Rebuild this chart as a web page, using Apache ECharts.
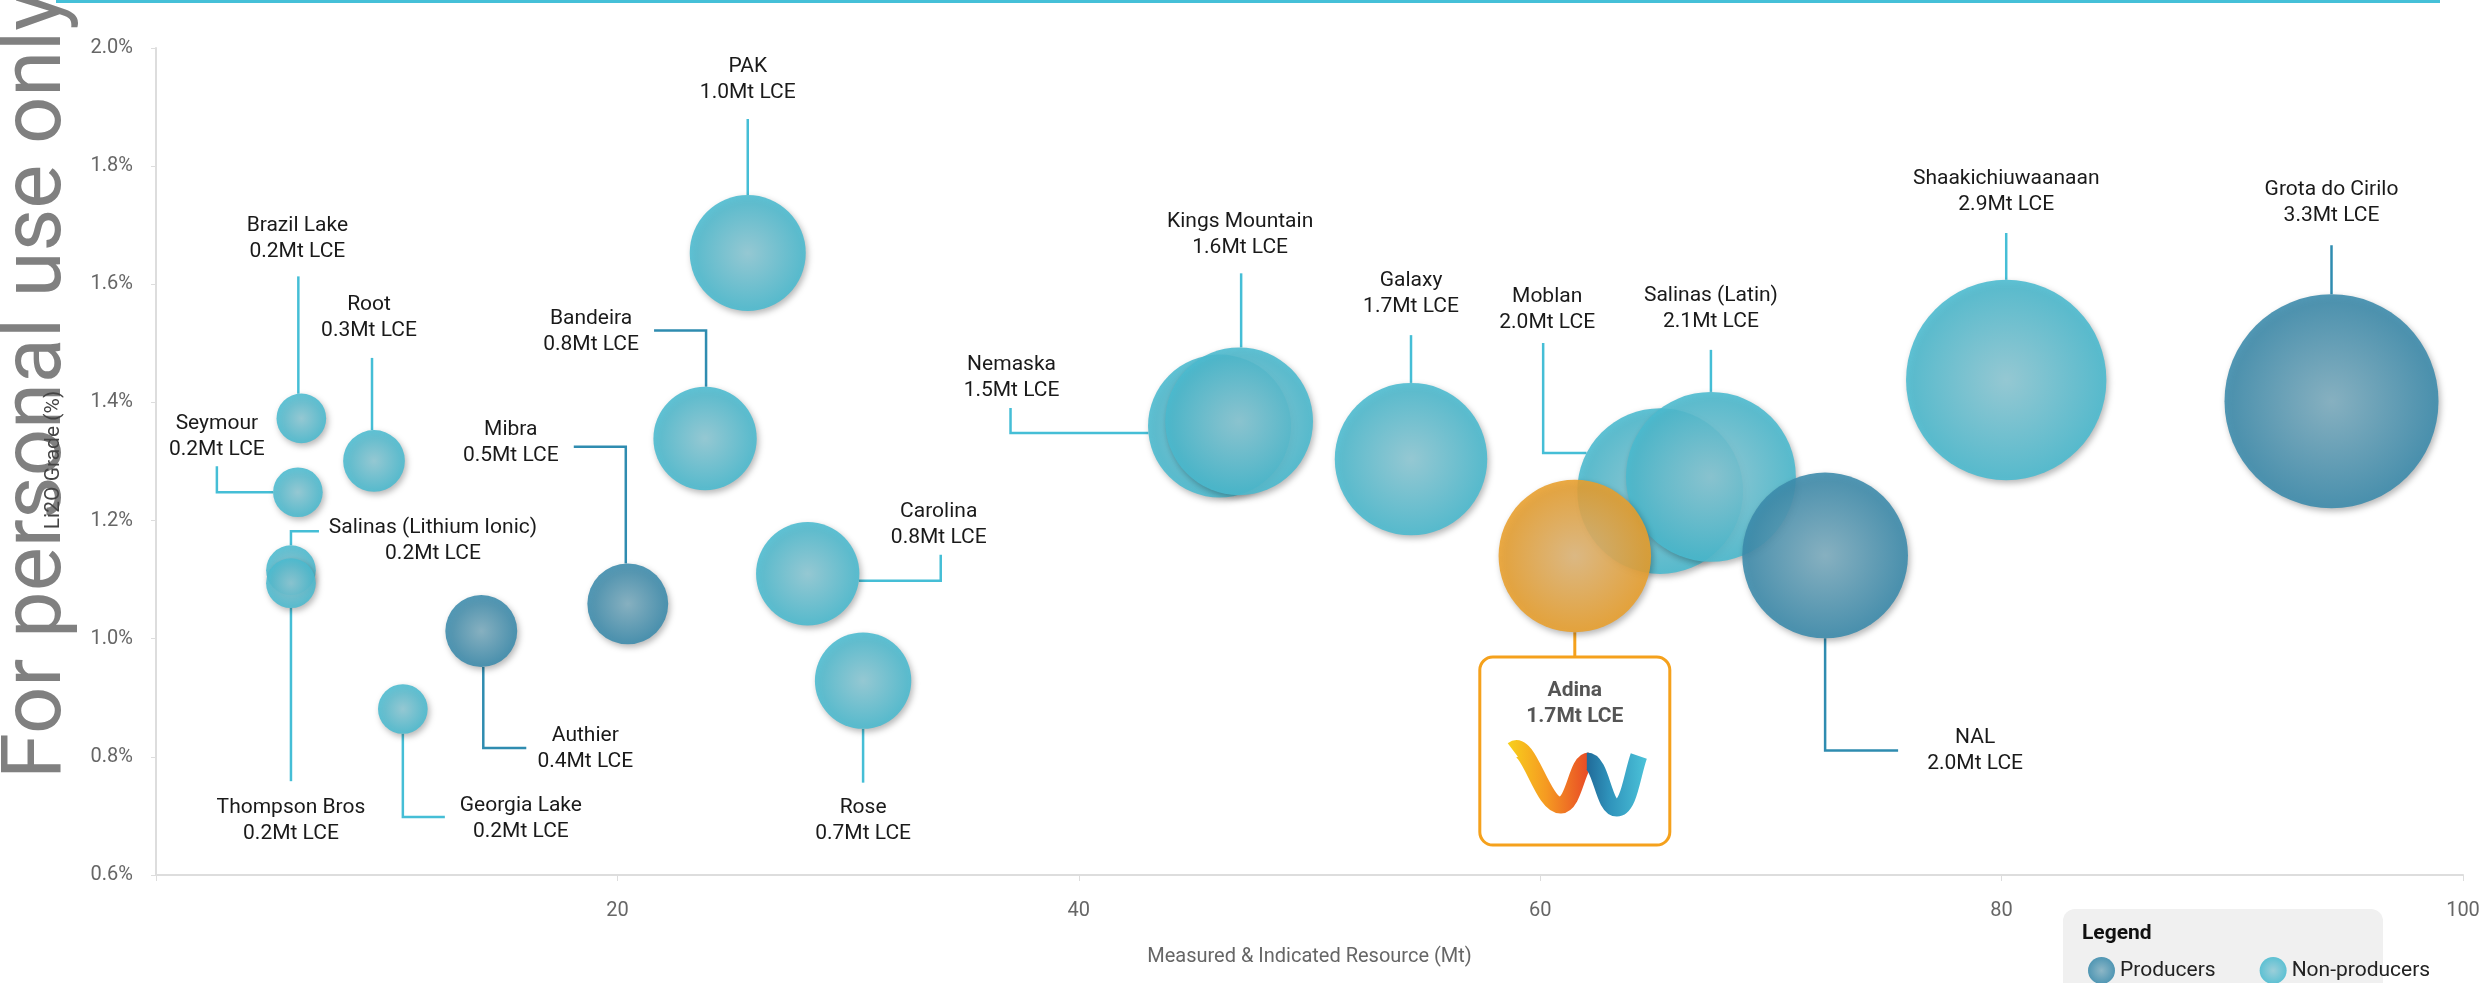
<!DOCTYPE html>
<html>
<head>
<meta charset="utf-8">
<script src="https://cdn.jsdelivr.net/npm/echarts/dist/echarts.min.js"></script>
<style>
html,body{margin:0;padding:0;background:#ffffff;}
#chart{width:2484px;height:983px;}
</style>
</head>
<body>
<div id="chart"></div>
<script>
// ---------------- DATA ----------------
const names = ['Brazil Lake','Root','Seymour','Salinas (Lithium Ionic)','Thompson Bros','Georgia Lake','Authier','Mibra','Bandeira','PAK','Carolina','Rose','Nemaska','Kings Mountain','Galaxy','Moblan','Salinas (Latin)','NAL','Shaakichiuwaanaan','Grota do Cirilo','Adina'];
const resourceMt = [6.3, 9.45, 6.15, 5.85, 5.85, 10.7, 14.1, 20.45, 23.8, 25.65, 28.25, 30.65, 46.1, 46.95, 54.4, 65.2, 67.4, 72.35, 80.2, 94.3, 61.5];
const gradePct  = [1.373, 1.301, 1.248, 1.116, 1.094, 0.881, 1.013, 1.059, 1.339, 1.653, 1.110, 0.929, 1.360, 1.368, 1.304, 1.250, 1.274, 1.141, 1.438, 1.402, 1.140];
const lceMt     = [0.2, 0.3, 0.2, 0.2, 0.2, 0.2, 0.4, 0.5, 0.8, 1.0, 0.8, 0.7, 1.5, 1.6, 1.7, 2.0, 2.1, 2.0, 2.9, 3.3, 1.7];
const status    = ['N','N','N','N','N','N','P','P','N','N','N','N','N','N','N','N','N','P','N','P','A'];
const seriesNames = ['Producers','Non-producers'];
const xTickValues = [20, 40, 60, 80, 100];
const yTickValues = [0.6, 0.8, 1.0, 1.2, 1.4, 1.6, 1.8, 2.0];
const xAxisTitle = 'Measured & Indicated Resource (Mt)';
const yAxisTitle = 'Li2O Grade (%)';

// ---------------- LAYOUT / STYLE (label placement in px offsets from bubble centre) ----------------
const DARK = '#2f8cb0', CYAN = '#45bed6', ORANGE = '#f5a11c';
const leaderLayout = {
  'Brazil Lake':            {from:'top',    off:-3, pts:[[-3,-142]], label:[-4,-180]},
  'Root':                   {from:'top',    off:-2, pts:[[-2,-103]], label:[-5,-143]},
  'Seymour':                {from:'left',   off:0,  pts:[[-81,0],[-81,-26]], label:[-81,-55]},
  'Salinas (Lithium Ionic)':{from:'top',    off:0,  pts:[[0,-39],[28,-39]], label:[142,-29]},
  'Thompson Bros':          {from:'bottom', off:0,  pts:[[0,198]], label:[0,238]},
  'Georgia Lake':           {from:'bottom', off:0,  pts:[[0,108],[42,108]], label:[118,110]},
  'Authier':                {from:'bottom', off:2,  pts:[[2,117],[45,117]], label:[104,118], dark:true},
  'Mibra':                  {from:'top',    off:-2, pts:[[-2,-157],[-54,-157]], label:[-117,-161], dark:true},
  'Bandeira':               {from:'top',    off:1,  pts:[[1,-108],[-51,-108]], label:[-114,-107], dark:true},
  'PAK':                    {from:'top',    off:0,  pts:[[0,-134]], label:[0,-173]},
  'Carolina':               {from:'right',  off:7,  pts:[[133,7],[133,-19]], label:[131,-49]},
  'Rose':                   {from:'bottom', off:0,  pts:[[0,102]], label:[0,140]},
  'Nemaska':                {from:'left',   off:7,  pts:[[-209,7],[-209,-18]], label:[-208,-48]},
  'Kings Mountain':         {from:'top',    off:2,  pts:[[2,-148]], label:[1,-187]},
  'Galaxy':                 {from:'top',    off:0,  pts:[[0,-124]], label:[0,-165]},
  'Moblan':                 {from:'left',   off:-38,pts:[[-117,-38],[-117,-148]], label:[-113,-181]},
  'Salinas (Latin)':        {from:'top',    off:0,  pts:[[0,-127]], label:[0,-168]},
  'NAL':                    {from:'bottom', off:0,  pts:[[0,195],[73,195]], label:[150,195], dark:true},
  'Shaakichiuwaanaan':      {from:'top',    off:0,  pts:[[0,-147]], label:[0,-188]},
  'Grota do Cirilo':        {from:'top',    off:0,  pts:[[0,-156]], label:[0,-198], dark:true}
};

function bubbleSize(v){ return 120*Math.sqrt(v) - 4; }

function grad(center, edge){
  return new echarts.graphic.RadialGradient(0.5, 0.5, 0.5, [
    {offset:0, color:center},{offset:1, color:edge}
  ]);
}
const bubbleCommon = {
  opacity: 0.88,
  shadowBlur: 6, shadowOffsetX: 2, shadowOffsetY: 3, shadowColor: 'rgba(0,0,0,0.32)'
};

function pick(code){
  const out = [];
  names.forEach((n,i)=>{ if(status[i]===code) out.push({name:n, value:[resourceMt[i], gradePct[i], lceMt[i]]}); });
  return out;
}

const leaderData = names.map((n,i)=>[resourceMt[i], gradePct[i], lceMt[i]]);

function renderLeader(params, api){
  const i = params.dataIndex;
  const name = names[i];
  const c = api.coord([api.value(0), api.value(1)]);
  const r = bubbleSize(api.value(2))/2;
  const font = '21px Roboto';
  const txt = name + '\n' + lceMt[i].toFixed(1) + 'Mt LCE';
  if (status[i] === 'A') {
    const boxTop = 101, boxH = 188, boxW = 190;
    return {type:'group', children:[
      {type:'line', shape:{x1:c[0], y1:c[1]+r, x2:c[0], y2:c[1]+boxTop}, style:{stroke:ORANGE, lineWidth:3}},
      {type:'rect', shape:{x:c[0]-boxW/2, y:c[1]+boxTop, width:boxW, height:boxH, r:13},
        style:{fill:'#ffffff', stroke:ORANGE, lineWidth:3}},
      {type:'text', x:c[0], y:c[1]+148, style:{text:txt, font:'700 21px Roboto', fill:'#555555',
        align:'center', verticalAlign:'middle', lineHeight:26}},
      {type:'path', x:c[0], y:c[1], shape:{pathData:'M -62 194 C -46 182 -33 250 -14 249 C 0 248 2 205 14 205'},
        style:{fill:'none', lineWidth:17, lineCap:'butt', stroke:new echarts.graphic.LinearGradient(0,0,1,0,[
          {offset:0,color:'#f8d51b'},{offset:0.45,color:'#f59a22'},{offset:1,color:'#e63a27'}])}},
      {type:'path', x:c[0], y:c[1], shape:{pathData:'M 12 205 C 27 205 28 252 42 252 C 54 252 57 220 64 200'},
        style:{fill:'none', lineWidth:17, lineCap:'butt', stroke:new echarts.graphic.LinearGradient(0,0,1,0,[
          {offset:0,color:'#1b5b8c'},{offset:0.45,color:'#2f93bb'},{offset:1,color:'#4cc3d9'}])}}
    ]};
  }
  const L = leaderLayout[name];
  const o = L.off || 0;
  const s = Math.sqrt(Math.max(r*r - o*o, 0));
  let e;
  if (L.from==='top') e=[o,-s]; else if (L.from==='bottom') e=[o,s]; else if (L.from==='left') e=[-s,o]; else e=[s,o];
  const pts = [e].concat(L.pts).map(p=>[c[0]+p[0], c[1]+p[1]]);
  return {type:'group', children:[
    {type:'polyline', shape:{points:pts}, style:{fill:'none', stroke:L.dark?DARK:CYAN, lineWidth:2.5}},
    {type:'text', x:c[0]+L.label[0], y:c[1]+L.label[1], style:{text:txt, font:font, fill:'#1a1a1a',
      align:'center', verticalAlign:'middle', lineHeight:26}}
  ]};
}

const chart = echarts.init(document.getElementById('chart'), null, {renderer:'canvas'});
const option = {
  animation: false,
  textStyle: {fontFamily: 'Roboto'},
  grid: {left:156, right:21, top:48, bottom:108},
  xAxis: {
    type:'value', min:0, max:100, interval:20,
    name: xAxisTitle, nameLocation:'middle', nameGap:72,
    nameTextStyle:{fontSize:20, color:'#666666', fontFamily:'Roboto'},
    axisLine:{show:true, lineStyle:{color:'#dddddd', width:2}},
    axisTick:{show:true, length:6, lineStyle:{color:'#dddddd'}},
    axisLabel:{fontSize:20, color:'#666666', margin:26, fontFamily:'Roboto',
      formatter:(v)=> xTickValues.indexOf(v)>=0 ? String(v) : ''},
    splitLine:{show:false}
  },
  yAxis: {
    type:'value', min:0.6, max:2.0, interval:0.2,
    axisLine:{show:true, lineStyle:{color:'#dddddd', width:2}},
    axisTick:{show:true, length:5, lineStyle:{color:'#dddddd'}},
    axisLabel:{fontSize:20, color:'#666666', margin:23, fontFamily:'Roboto',
      formatter:(v)=>{ const t = yTickValues.find(k=>Math.abs(k-v)<1e-6); return t===undefined ? '' : t.toFixed(1)+'%'; }},
    splitLine:{show:false}
  },
  legend: {
    data: seriesNames, left:2083, top:952, icon:'circle', itemWidth:27, itemHeight:27, itemGap:44,
    textStyle:{fontSize:21, color:'#222222', fontFamily:'Roboto'}, selectedMode:false
  },
  graphic: [
    {type:'rect', left:56, top:0, z:1, shape:{width:2384, height:3}, style:{fill:'#45c0d8'}},
    {type:'text', x:39, y:779, rotation:Math.PI/2, z:1,
      style:{text:'For personal use only', font:'83px Roboto', fill:'#808080', align:'left', verticalAlign:'middle'}},
    {type:'text', x:54, y:460, rotation:Math.PI/2, z:50,
      style:{text:yAxisTitle, font:'21px Roboto', fill:'#444444', align:'center', verticalAlign:'middle'}},
    {type:'rect', x:2063, y:909, shape:{width:320, height:110, r:12}, style:{fill:'#f0f0f0'}, z:1},
    {type:'text', x:2082, y:934, z:2, style:{text:'Legend', font:'700 21px Roboto', fill:'#111111', verticalAlign:'middle'}}
  ],
  series: [
    {
      type:'custom', name:'leaders', renderItem: renderLeader, data: leaderData, clip:false, z:1,
      encode:{x:0, y:1}, silent:true
    },
    {
      type:'scatter', name:'Non-producers', data: pick('N'), z:3,
      symbolSize:(d)=>bubbleSize(d[2]),
      itemStyle: Object.assign({color: grad('#90cad6','#49bacf')}, bubbleCommon)
    },
    {
      type:'scatter', name:'Producers', data: pick('P'), z:4,
      symbolSize:(d)=>bubbleSize(d[2]),
      itemStyle: Object.assign({color: grad('#80afc1','#3a8aab')}, bubbleCommon)
    },
    {
      type:'scatter', name:'Adina', data: pick('A'), z:5,
      symbolSize:(d)=>bubbleSize(d[2]),
      itemStyle: Object.assign({color: grad('#e0b87c','#e99f2b')}, bubbleCommon)
    }
  ]
};
chart.setOption(option);
</script>
</body>
</html>
